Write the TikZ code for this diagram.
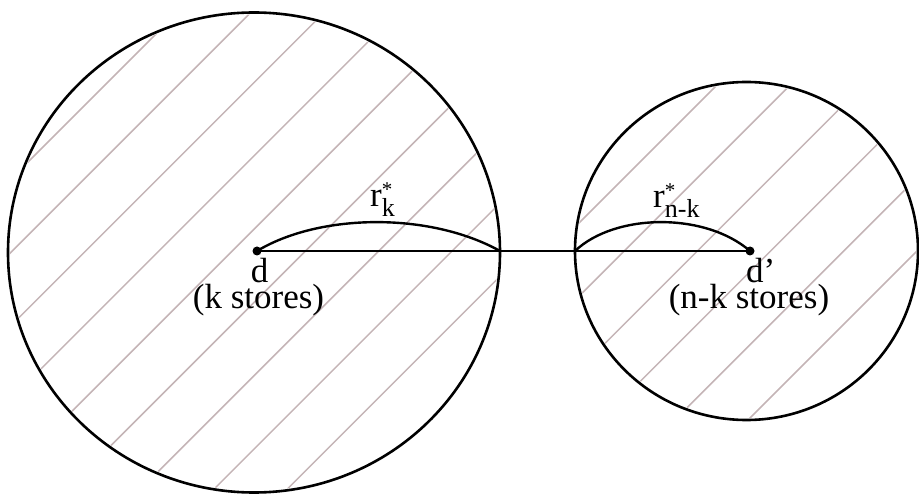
\documentclass[tikz,border=0pt]{standalone}
\usepackage{fontspec}
\setmainfont{Liberation Serif}
\definecolor{hatchcol}{RGB}{196,180,182}
\begin{document}
\begin{tikzpicture}[x=1pt,y=-1pt,
  circ/.style={line width=2.6pt},
  hatch/.style={draw=hatchcol, line width=1.5pt},
  conn/.style={line width=2.4pt},
  lbl/.style={font=\fontsize{35}{38}\selectfont, inner sep=0pt},
  dot/.style={circle, fill=black, inner sep=0pt, minimum size=9pt}]
\useasboundingbox (0,0) rectangle (919,494);
% hatching
\begin{scope}
  \clip (254,252.5) ellipse [x radius=244, y radius=238];
  \foreach \k in {0,...,9} {
    \pgfmathsetmacro\c{190+73.3*\k}
    \draw[hatch] (\c+300,-300) -- (\c-600,600);
  }
\end{scope}
\begin{scope}
  \clip (746.5,251) ellipse [x radius=169.5, y radius=167];
  \foreach \k in {0,...,6} {
    \pgfmathsetmacro\c{802+73.2*\k}
    \draw[hatch] (\c+300,-300) -- (\c-600,600);
  }
\end{scope}
% circles
\draw[circ] (254,252.5) ellipse [x radius=246, y radius=240];
\draw[circ] (746.5,251) ellipse [x radius=171.5, y radius=169];
% points
\node[dot] (d) at (257,251) {};
\node[dot] (d2) at (750,251) {};
\coordinate (e1) at (500,251);
\coordinate (e2) at (575,251);
% connectors
\draw[conn] (d.center) -- (d2.center);
\draw[conn] (d.center) .. controls (320,213) and (430,212) .. (e1);
\draw[conn] (e2) .. controls (615,213) and (705,212) .. (d2.center);
% labels
\node[lbl, anchor=base] (dl) at (259.5,283) {d};
\node[lbl, anchor=base] (ks) at (258.5,309) {(k stores)};
\node[lbl, anchor=base west] (dpl) at (746,283) {d’};
\node[lbl, anchor=base] (nks) at (749,309) {(n-k stores)};
\node[lbl, anchor=base west] (rk) at (370,207)
  {r\rlap{\raisebox{0.3em}{\fontsize{21}{21}\selectfont *}}\raisebox{-0.28em}{\fontsize{26}{26}\selectfont k}};
\node[lbl, anchor=base west] (rnk) at (653,208)
  {r\rlap{\raisebox{0.3em}{\fontsize{21}{21}\selectfont *}}\raisebox{-0.28em}{\fontsize{26}{26}\selectfont n-k}};
\end{tikzpicture}
\end{document}
